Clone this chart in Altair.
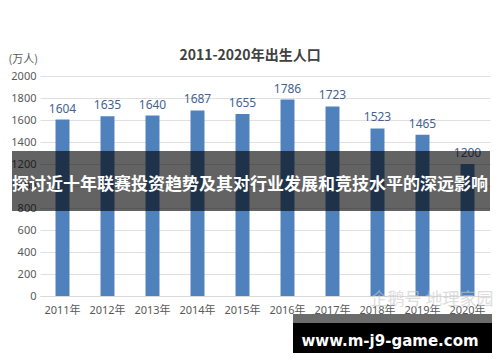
import altair as alt
import pandas as pd

years = ["2011年", "2012年", "2013年", "2014年", "2015年", "2016年", "2017年", "2018年", "2019年", "2020年"]
births = [1604, 1635, 1640, 1687, 1655, 1786, 1723, 1523, 1465, 1200]
y_ticks = [0, 200, 400, 600, 800, 1000, 1200, 1400, 1600, 1800, 2000]

title_text = "2011-2020年出生人口"
unit_text = "(万人)"
banner_text = "探讨近十年联赛投资趋势及其对行业发展和竞技水平的深远影响"
site_text = "www.m-j9-game.com"
watermark_text = "企鹅号 地理家园"

df = pd.DataFrame({"year": years, "births": births})
FONT = "Noto Sans, Noto Sans CJK SC"
CJK = "Noto Sans CJK SC"

x = alt.X("year:N", sort=years, title=None,
          scale=alt.Scale(paddingInner=0.69, paddingOuter=0.345),
          axis=alt.Axis(labelAngle=0, labelFontSize=11, labelColor="#595959",
                        labelFont=FONT, labelPadding=8, ticks=False,
                        domainColor="#d9d9d9", grid=False))
y = alt.Y("births:Q", title=None,
          scale=alt.Scale(domain=[0, 2000], nice=False),
          axis=alt.Axis(values=y_ticks, format="d", labelFontSize=11, labelColor="#595959",
                        labelFont=FONT, labelPadding=4, ticks=False, domain=False,
                        labelOverlap=False, gridColor="#e0e0e0"))

base = alt.Chart(df)
bars = base.mark_bar(color="#4f81bd").encode(x=x, y=y)
labels = base.mark_text(baseline="bottom", dy=-4, fontSize=12, color="#44638f", font=FONT).encode(
    x=x, y=y, text="births:Q")

one = pd.DataFrame({"t": [0]})
def txt(text, xv, yv, **kw):
    return alt.Chart(one).mark_text(**kw).encode(x=alt.value(xv), y=alt.value(yv), text=alt.value(text))

title = txt(title_text, 210, -20, fontSize=14, fontWeight="bold", color="#404040", font=CJK, align="center", baseline="middle")
unit = txt(unit_text, -2, -16, fontSize=11, color="#595959", font=CJK, align="right", baseline="middle")
watermark = txt(watermark_text, 392, 224, fontSize=17, color="#c8c8c8", opacity=0.6, font=CJK, align="center", baseline="middle")

banner = alt.Chart(one).mark_rect(color="#000000", opacity=0.61).encode(
    x=alt.value(-28), x2=alt.value(450), y=alt.value(75), y2=alt.value(135))
banner_t = txt(banner_text, 210, 109, fontSize=17, fontWeight="bold", color="#ffffff", font=CJK, align="center", baseline="middle")

box_gray = alt.Chart(one).mark_rect(color="#6b6b6b").encode(
    x=alt.value(253), x2=alt.value(452), y=alt.value(238), y2=alt.value(247))
box_black = alt.Chart(one).mark_rect(color="#000000").encode(
    x=alt.value(253), x2=alt.value(452), y=alt.value(247), y2=alt.value(277))
box_t = txt(site_text, 350, 265, fontSize=15, fontWeight="bold", color="#ffffff", font="DejaVu Sans", align="center", baseline="middle")

chart = alt.layer(bars, labels, title, unit, watermark, banner, banner_t, box_gray, box_black, box_t).properties(
    width=450, height=220,
    autosize=alt.AutoSizeParams(type="none"),
    padding={"left": 40, "top": 76, "right": 10, "bottom": 66},
    background="#ffffff",
).configure_view(stroke=None)

chart.save("out.html", embed_options={"renderer": "svg", "actions": False})
